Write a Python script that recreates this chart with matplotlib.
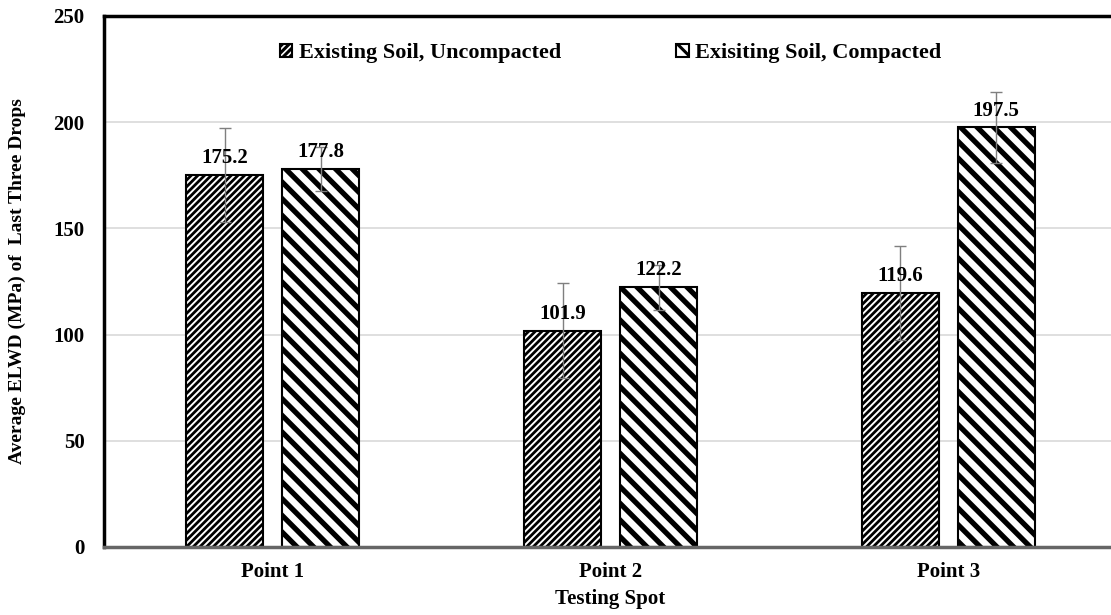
import numpy as np
import matplotlib.pyplot as plt

plt.rcParams['font.family'] = ['Liberation Serif', 'DejaVu Serif']
plt.rcParams['font.weight'] = 'bold'
plt.rcParams['hatch.linewidth'] = 2.2

# data
spots = ["Point 1", "Point 2", "Point 3"]
uncompacted = [175.2, 101.9, 119.6]
compacted = [177.8, 122.2, 197.5]
uncompacted_err = [22.0, 22.2, 22.1]
compacted_err = [10.3, 10.5, 16.5]
labels = ["Existing Soil, Uncompacted", "Exisiting Soil, Compacted"]

fig = plt.figure(figsize=(11.11, 6.15), dpi=100)
ax = fig.add_axes([0.0936, 0.1106, 0.912, 0.8634])

x = np.arange(len(spots))
w = 0.228
off = 0.142

b1 = ax.bar(x - off, uncompacted, w, color='white', edgecolor='black', linewidth=1.5,
            hatch='/////', label=labels[0], zorder=2)
b2 = ax.bar(x + off, compacted, w, color='white', edgecolor='black', linewidth=1.5,
            hatch='\\\\', label=labels[1], zorder=2)

# thicker stripes on the compacted bars, if this matplotlib allows it per patch
for p in b1:
    if hasattr(p, 'set_hatch_linewidth'):
        p.set_hatch_linewidth(2.0)
for p in b2:
    if hasattr(p, 'set_hatch_linewidth'):
        p.set_hatch_linewidth(3.8)

ax.errorbar(x - off, uncompacted, yerr=uncompacted_err, fmt='none', ecolor='#7f7f7f',
            elinewidth=1, capsize=4, capthick=1, zorder=3)
ax.errorbar(x + off, compacted, yerr=compacted_err, fmt='none', ecolor='#7f7f7f',
            elinewidth=1, capsize=4, capthick=1, zorder=3)

for bars in (b1, b2):
    ax.bar_label(bars, fmt='%.1f', padding=5, fontsize=15, fontweight='bold', zorder=4)

ax.set_xlim(-0.5, 2.5)
ax.set_ylim(0, 250)
ax.set_yticks([0, 50, 100, 150, 200, 250])
ax.set_xticks(x)
ax.set_xticklabels(spots)
ax.tick_params(axis='both', length=0, labelsize=15)
ax.tick_params(axis='y', pad=14)
ax.tick_params(axis='x', pad=11)

ax.yaxis.grid(True, color='#d9d9d9', linewidth=1.2)
ax.set_axisbelow(True)

ax.spines['right'].set_visible(False)
ax.spines['top'].set_linewidth(2.5)
ax.spines['left'].set_linewidth(2.5)
ax.spines['bottom'].set_linewidth(2.5)
ax.spines['bottom'].set_color('#666666')

ax.set_xlabel("Testing Spot", fontsize=15, fontweight='bold', labelpad=5)
ax.set_ylabel("Average ELWD (MPa) of  Last Three Drops", fontsize=14, fontweight='bold', labelpad=20)

ax.legend(loc='center', bbox_to_anchor=(0.5, 0.93), ncol=2, frameon=False,
          fontsize=16, handlelength=0.55, handleheight=0.55, handletextpad=0.3,
          columnspacing=5.2)

plt.savefig('out.png', dpi=100)
